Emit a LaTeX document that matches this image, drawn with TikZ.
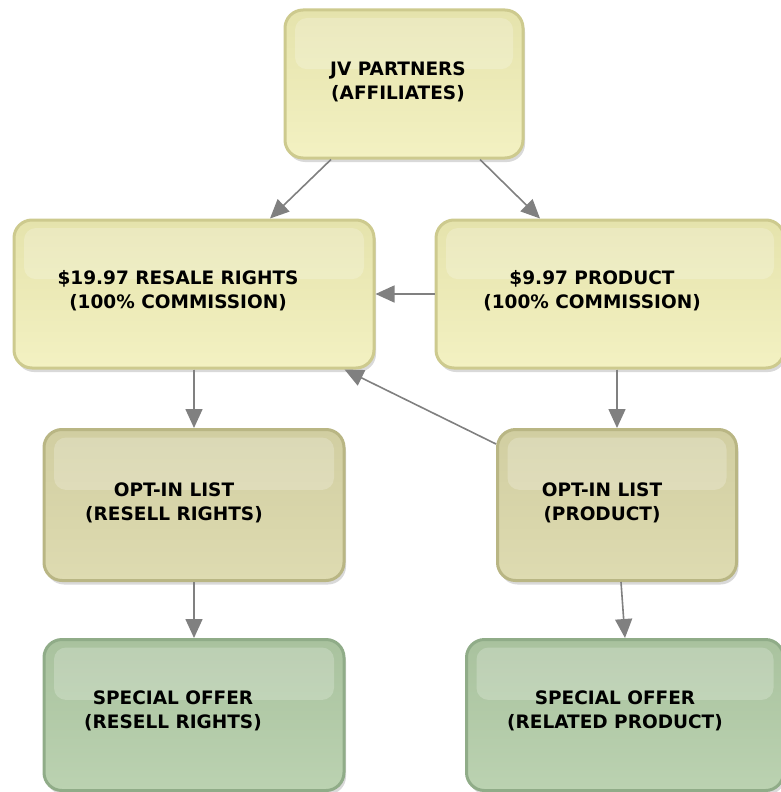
\documentclass[tikz,border=0pt]{standalone}
\usepackage{fontspec}
\setmainfont{DejaVu Sans}
\usetikzlibrary{arrows.meta,shadows,calc}
\definecolor{boxgray}{HTML}{808080}
\definecolor{yeltop}{HTML}{E5E3AC}
\definecolor{yelbot}{HTML}{F3F1C2}
\definecolor{yelrim}{HTML}{CDCA8E}
\definecolor{olitop}{HTML}{D1CEA1}
\definecolor{olibot}{HTML}{DEDBB1}
\definecolor{olirim}{HTML}{B9B684}
\definecolor{grntop}{HTML}{A9C29E}
\definecolor{grnbot}{HTML}{BBD2B1}
\definecolor{grnrim}{HTML}{90AC88}

\begin{document}
\begin{tikzpicture}[x=1pt,y=-1pt]
\tikzset{box/.style = {shape=rectangle, rounded corners=18pt, line width=3pt,
  minimum height=148pt, inner sep=0pt,
  drop shadow={shadow xshift=2pt, shadow yshift=-4pt, opacity=0.3},
  path picture={\fill[white, opacity=0.22, rounded corners=12pt]
    ([xshift=10pt,yshift=-8pt]path picture bounding box.north west) rectangle
    ($([xshift=-10pt]path picture bounding box.north east)!0.4!([xshift=-10pt]path picture bounding box.south east)$);}}}
\tikzset{yelbox/.style = {box, draw=yelrim, top color=yeltop, bottom color=yelbot}}
\tikzset{olibox/.style = {box, draw=olirim, top color=olitop, bottom color=olibot, minimum height=151pt}}
\tikzset{grnbox/.style = {box, draw=grnrim, top color=grntop, bottom color=grnbot, minimum height=151pt}}
\tikzset{label/.style = {align=center, font=\bfseries\fontsize{18.5}{24}\selectfont}}
\tikzset{edge/.style = {-{Triangle[length=19pt,width=17pt]}, draw=boxgray, fill=boxgray, line width=1.6pt}}
\useasboundingbox (0,0) rectangle (780,792);

\node[yelbox, minimum width=238pt] (jv) at (404,84) {};
\node[yelbox, minimum width=360pt] (resale) at (194,294) {};
\node[yelbox, minimum width=348pt] (product) at (610,294) {};
\node[olibox, minimum width=300pt] (optr) at (194,505) {};
\node[olibox, minimum width=239pt] (optp) at (617,505) {};
\node[grnbox, minimum width=300pt] (specr) at (194,715) {};
\node[grnbox, minimum width=317pt] (specp) at (625,715) {};

\node[label] (jvt) at (398,82) {JV PARTNERS\\(AFFILIATES)};
\node[label] (resalet) at (178,291) {\$19.97 RESALE RIGHTS\\(100\% COMMISSION)};
\node[label] (productt) at (592,291) {\$9.97 PRODUCT\\(100\% COMMISSION)};
\node[label] (optrt) at (174,503) {OPT-IN LIST\\(RESELL RIGHTS)};
\node[label] (optpt) at (602,503) {OPT-IN LIST\\(PRODUCT)};
\node[label] (specrt) at (173,711) {SPECIAL OFFER\\(RESELL RIGHTS)};
\node[label] (specpt) at (615,711) {SPECIAL OFFER\\(RELATED PRODUCT)};

\draw[edge] ([xshift=-73pt]jv.south) to ([xshift=76pt]resale.north);
\draw[edge] ([xshift=76pt]jv.south) to ([xshift=-70pt]product.north);
\draw[edge] (product.west) to (resale.east);
\draw[edge] (resale.south) to (optr.north);
\draw[edge] ([xshift=7pt]product.south) to (optp.north);
\draw[edge] ([yshift=-16pt]optp.north west) to ([xshift=-31pt]resale.south east);
\draw[edge] (optr.south) to (specr.north);
\draw[edge] ([xshift=4pt]optp.south) to (specp.north);
\end{tikzpicture}
\end{document}
